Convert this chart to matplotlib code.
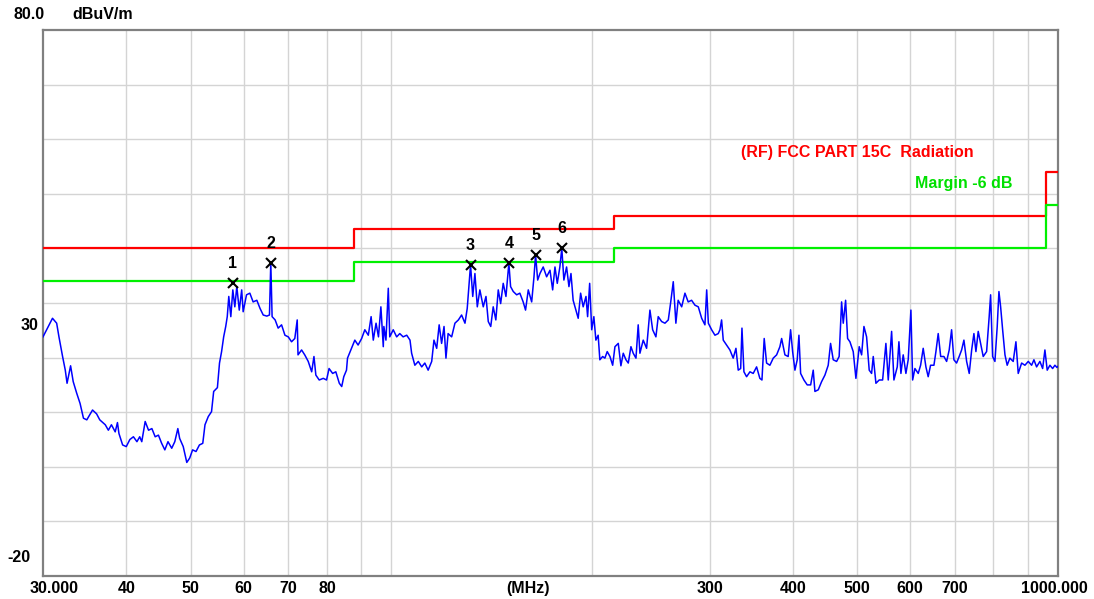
import matplotlib
matplotlib.use("Agg")
import matplotlib.pyplot as plt

# measured trace (MHz, dBuV/m)
trace_mhz = [
    30.0, 31.0, 31.45, 31.7, 32.1, 32.4, 32.6, 33.0, 33.3, 33.7, 34.1, 34.5, 34.9, 35.6, 36.1,
    36.5, 37.2, 37.6, 38.0, 38.5, 38.8, 39.0, 39.5, 40.0, 40.5, 41.0, 41.5, 41.9, 42.2, 42.7,
    43.2, 43.7, 44.2, 44.7, 45.2, 45.7, 46.2, 46.8, 47.3, 47.8, 48.1, 48.7, 49.3, 49.8, 50.3,
    50.9, 51.5, 52.1, 52.5, 53.1, 53.7, 54.0, 54.1, 54.8, 55.2, 55.6, 56.0, 56.4, 56.7, 57.0,
    57.4, 57.8, 58.2, 58.6, 59.1, 59.6, 59.9, 60.6, 61.3, 62.0, 62.8, 63.5, 64.2, 65.0, 65.6,
    65.9, 66.2, 66.9, 67.6, 68.4, 69.2, 70.0, 70.8, 71.6, 72.2, 72.4, 73.3, 74.1, 75.0, 75.9,
    76.5, 77.0, 77.9, 79.0, 79.9, 80.6, 81.6, 82.5, 83.5, 84.2, 84.8, 85.6, 85.9, 87.1, 88.1,
    89.1, 90.2, 91.2, 92.3, 93.2, 93.9, 94.8, 95.6, 96.4, 97.2, 97.4, 98.1, 98.9, 99.4, 100.6,
    101.8, 102.9, 104.1, 105.4, 106.6, 107.2, 108.4, 109.7, 111.0, 112.2, 113.5, 114.9, 115.8, 116.9, 117.9,
    118.9, 119.9, 120.7, 121.6, 123.1, 124.5, 126.0, 127.4, 128.9, 129.9, 131.4, 132.4, 133.4, 134.5, 135.7,
    137.3, 138.6, 139.7, 140.9, 142.1, 143.4, 144.6, 145.8, 147.1, 148.5, 150.0, 150.9, 152.3, 154.1, 155.8,
    157.6, 158.9, 160.4, 162.3, 163.6, 164.5, 165.7, 167.0, 168.9, 170.9, 172.9, 174.5, 175.9, 177.3, 178.9,
    180.1, 181.4, 183.1, 184.6, 185.9, 187.3, 189.1, 190.6, 192.2, 193.9, 195.8, 196.9, 198.3, 199.7, 201.2,
    202.6, 204.2, 205.4, 207.4, 209.0, 210.7, 212.7, 214.7, 216.4, 218.9, 220.9, 222.7, 224.8, 226.6, 228.7,
    230.5, 232.7, 234.5, 235.9, 238.6, 241.4, 244.2, 246.5, 249.3, 251.3, 254.3, 257.2, 260.2, 262.4, 264.7,
    267.1, 269.2, 272.5, 275.6, 278.7, 282.0, 285.3, 288.6, 292.0, 295.3, 297.1, 298.8, 302.2, 305.7, 309.2,
    311.0, 312.8, 314.6, 318.3, 321.9, 325.6, 328.7, 331.3, 334.1, 335.6, 337.9, 341.0, 345.0, 348.9, 353.0,
    357.0, 359.6, 362.4, 365.4, 369.6, 373.9, 378.3, 382.6, 384.9, 389.3, 393.7, 397.0, 399.8, 403.0, 406.2,
    408.6, 411.0, 415.7, 420.5, 425.5, 429.3, 431.8, 436.8, 441.9, 447.0, 452.1, 455.8, 460.0, 465.4, 469.5,
    473.5, 476.2, 480.1, 483.4, 487.3, 492.9, 497.5, 503.2, 507.4, 511.5, 516.2, 520.9, 525.2, 528.2, 533.1,
    539.2, 545.6, 551.8, 556.3, 562.8, 567.3, 573.9, 577.2, 581.2, 585.8, 591.3, 596.0, 599.5, 601.6, 605.2,
    610.0, 617.0, 622.1, 627.7, 633.6, 638.6, 643.9, 651.4, 655.9, 661.1, 666.8, 674.3, 680.6, 686.7, 692.4,
    697.9, 704.4, 710.8, 716.8, 722.5, 729.3, 735.9, 742.1, 747.9, 753.1, 759.1, 765.5, 772.3, 781.4, 788.4,
    792.3, 797.8, 804.2, 810.6, 815.4, 820.2, 825.9, 832.6, 839.0, 846.8, 856.6, 864.7, 871.6, 881.9, 892.0,
    902.4, 912.9, 920.2, 928.7, 939.4, 948.3, 955.8, 963.4, 972.5, 981.6, 989.4, 996.2, 1000.0,
]
trace_dbuv = [
    23.8, 27.2, 26.3, 23.8, 20.2, 17.7, 15.3, 18.5, 15.6, 13.5, 11.6, 8.9, 8.6, 10.4, 9.7,
    8.6, 7.7, 6.7, 7.7, 6.4, 8.1, 6.1, 4.0, 3.7, 5.0, 5.5, 4.6, 5.5, 4.6, 8.3,
    6.7, 7.0, 5.5, 5.8, 4.3, 3.1, 4.6, 3.4, 4.6, 7.0, 5.2, 3.7, 0.8, 1.6, 3.1,
    2.8, 4.0, 4.3, 7.7, 9.2, 10.1, 12.8, 13.8, 14.5, 19.0, 21.1, 23.8, 25.7, 27.5, 31.2,
    27.5, 32.4, 29.3, 33.0, 28.7, 32.4, 28.4, 31.5, 31.8, 30.2, 30.5, 29.0, 27.8, 27.6, 27.8,
    37.4, 27.5, 26.9, 25.4, 26.0, 24.1, 23.8, 22.9, 23.5, 26.9, 20.5, 21.4, 20.5, 19.3, 17.4,
    20.2, 16.8, 15.9, 16.2, 15.9, 18.0, 17.1, 17.4, 15.3, 14.7, 16.5, 17.7, 19.9, 21.7, 23.2,
    22.3, 23.5, 25.1, 24.1, 27.5, 23.2, 26.3, 23.8, 29.3, 22.0, 25.7, 23.2, 32.7, 23.8, 25.1,
    23.8, 24.4, 23.8, 24.1, 23.2, 20.8, 18.6, 19.3, 18.3, 19.0, 17.7, 19.3, 23.2, 21.7, 26.0,
    22.6, 25.7, 19.9, 24.4, 23.8, 26.3, 26.9, 27.8, 26.3, 29.0, 37.0, 31.2, 35.4, 29.3, 32.4,
    29.3, 31.2, 26.6, 25.7, 29.3, 26.9, 32.4, 29.9, 33.6, 31.2, 37.3, 33.0, 32.1, 31.5, 31.8,
    30.2, 28.7, 32.4, 30.2, 34.8, 38.8, 34.2, 35.4, 36.6, 34.8, 36.0, 32.4, 36.6, 33.6, 36.6,
    40.0, 34.2, 36.6, 33.0, 35.4, 30.5, 28.7, 27.2, 31.8, 29.3, 31.2, 27.5, 33.6, 25.1, 27.5,
    23.2, 24.1, 19.6, 20.2, 19.9, 21.1, 20.2, 18.6, 22.0, 22.6, 18.5, 20.8, 19.6, 19.0, 22.0,
    20.8, 19.9, 26.0, 20.8, 23.2, 21.7, 28.7, 25.1, 23.8, 27.5, 26.6, 26.3, 26.9, 30.2, 33.9,
    26.3, 30.5, 29.3, 31.8, 30.2, 30.5, 29.6, 29.3, 27.2, 26.0, 32.4, 26.3, 25.1, 24.1, 24.4,
    25.1, 26.9, 23.2, 22.3, 21.4, 19.9, 21.7, 17.7, 18.0, 25.4, 17.4, 16.5, 17.4, 17.1, 18.3,
    16.2, 15.9, 23.5, 19.0, 18.6, 19.9, 20.5, 22.0, 23.5, 20.5, 20.2, 25.1, 21.1, 17.7, 19.6,
    24.1, 17.1, 15.9, 15.0, 15.0, 17.7, 13.8, 14.1, 15.6, 16.8, 18.6, 22.6, 19.6, 19.3, 20.2,
    30.2, 26.3, 30.5, 23.5, 22.9, 21.1, 16.2, 22.0, 20.5, 25.7, 23.8, 17.7, 17.1, 20.2, 15.3,
    15.9, 15.9, 22.6, 15.9, 24.8, 15.9, 18.3, 22.9, 17.1, 20.5, 17.1, 19.6, 25.1, 28.7, 15.9,
    18.0, 17.1, 18.6, 21.7, 18.3, 16.5, 18.6, 18.6, 21.1, 24.4, 20.2, 20.2, 19.3, 21.4, 25.1,
    19.6, 19.0, 20.2, 21.4, 23.2, 19.3, 17.1, 21.4, 24.4, 21.1, 24.8, 22.6, 20.2, 21.1, 27.5,
    31.5, 20.2, 19.3, 25.7, 32.1, 29.3, 25.1, 20.5, 18.6, 19.9, 19.3, 22.9, 17.1, 19.0, 18.6,
    19.3, 18.6, 19.6, 18.3, 19.3, 18.0, 21.4, 17.7, 18.6, 18.0, 18.6, 18.2, 18.4,
]

# FCC Part 15C radiated limit and -6 dB margin
limit_mhz = [30, 88, 216, 960, 1000]
limit_dbuv = [40.0, 43.5, 46.0, 54.0, 54.0]
margin_dbuv = [34.0, 37.5, 40.0, 48.0, 48.0]

# marked peaks
peak_no = ["1", "2", "3", "4", "5", "6"]
peak_mhz = [57.8, 65.9, 131.4, 150.0, 164.5, 180.1]
peak_dbuv = [33.6, 37.4, 37.0, 37.3, 38.8, 40.0]

grid_mhz = [40, 50, 60, 70, 80, 90, 100, 200, 300, 400, 500, 600, 700, 800, 900]
xlabel_mhz = [40, 50, 60, 70, 80, 300, 400, 500, 600, 700]

plt.rcParams['font.family'] = ['Liberation Sans', 'DejaVu Sans']
plt.rcParams['font.weight'] = 'bold'
fs = 11.5

fig = plt.figure(figsize=(10.94, 5.99), dpi=100)
ax = fig.add_axes([43/1094, 23/599, 1015/1094, 546/599])
ax.set_xscale('log')
ax.set_xlim(30, 1000)
ax.set_ylim(-20, 80)

ax.set_xticks(grid_mhz, minor=False)
ax.set_xticks([], minor=True)
ax.set_yticks(range(-10, 80, 10))
ax.set_xticklabels([])
ax.set_yticklabels([])
ax.tick_params(length=0, which='both')
ax.grid(True, color='#d4d4d4', linewidth=1.0)
ax.set_axisbelow(True)
for s in ax.spines.values():
    s.set_color('#808080')
    s.set_linewidth(1.6)

ax.step(limit_mhz, limit_dbuv, where='post', color='#ff0000', lw=1.6, zorder=3)
ax.step(limit_mhz, margin_dbuv, where='post', color='#00f000', lw=1.6, zorder=3)
ax.plot(trace_mhz, trace_dbuv, color='#0000ff', lw=1.1, zorder=4)

ax.plot(peak_mhz, peak_dbuv, 'x', color='black', ms=7, mew=1.5, zorder=5)
for n, f, v in zip(peak_no, peak_mhz, peak_dbuv):
    ax.annotate(n, (f, v), xytext=(0, 14), textcoords='offset points',
                ha='center', va='center', fontsize=fs, color='black')

ax.text(0.688, 0.776, "(RF) FCC PART 15C  Radiation", transform=ax.transAxes,
        color='#ff0000', fontsize=fs, ha='left', va='center')
ax.text(0.859, 0.719, "Margin -6 dB", transform=ax.transAxes,
        color='#00e000', fontsize=fs, ha='left', va='center')

# axis labels
xt = ax.get_xaxis_transform()
for f in xlabel_mhz:
    ax.text(f, -0.022, str(f), transform=xt, ha='center', va='center', fontsize=fs)
ax.text(-0.0128, -0.022, "30.000", transform=ax.transAxes, ha='left', va='center', fontsize=fs)
ax.text(1.0296, -0.022, "1000.000", transform=ax.transAxes, ha='right', va='center', fontsize=fs)
ax.text(0.478, -0.022, "(MHz)", transform=ax.transAxes, ha='center', va='center', fontsize=fs)

yt = ax.get_yaxis_transform()
ax.text(-0.0138, 82.9, "80.0", transform=yt, ha='center', va='center', fontsize=fs)
ax.text(0.0286, 82.9, "dBuV/m", transform=yt, ha='left', va='center', fontsize=fs)
ax.text(-0.0049, 25.8, "30", transform=yt, ha='right', va='center', fontsize=fs)
ax.text(-0.0128, -16.7, "-20", transform=yt, ha='right', va='center', fontsize=fs)

fig.savefig("out.png", dpi=100)
